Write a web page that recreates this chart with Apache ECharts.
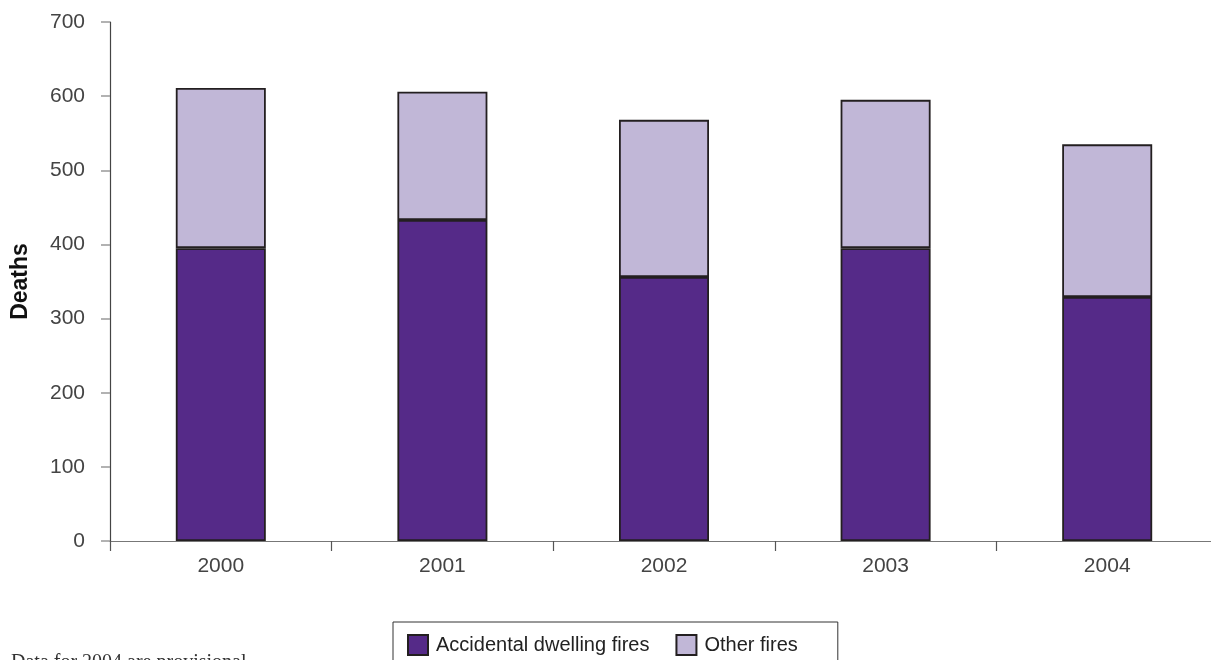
<!DOCTYPE html>
<html>
<head>
<meta charset="utf-8">
<script src="https://cdn.jsdelivr.net/npm/echarts@6/dist/echarts.min.js"></script>
<style>
  html, body { margin: 0; padding: 0; background: #fff; }
  #chart { width: 1211px; height: 660px; }
</style>
</head>
<body>
<div id="chart"></div>
<script>
// Fire deaths by year, split by fire type
const years = ['2000', '2001', '2002', '2003', '2004'];
const accidentalDwelling = [395, 433, 356, 395, 329];
const otherFires = [216, 173, 212, 200, 206];
const yTicks = [0, 100, 200, 300, 400, 500, 600, 700];

const chart = echarts.init(document.getElementById('chart'));
const font = 'Liberation Sans, Arial, sans-serif';
const barBorder = { borderColor: '#231f20', borderWidth: 1.8 };

chart.setOption({
  animation: false,
  grid: {
    left: 110, top: 22, width: 1108, height: 519,
    containLabel: false,
    outerBoundsMode: 'none'
  },
  xAxis: {
    type: 'category',
    data: years,
    axisLine: { lineStyle: { color: '#777', width: 1.2 } },
    axisTick: { show: true, length: 10, lineStyle: { color: '#555', width: 1.2 } },
    axisLabel: { color: '#444', fontSize: 21, fontFamily: font, margin: 15 }
  },
  yAxis: {
    type: 'value',
    min: yTicks[0],
    max: yTicks[yTicks.length - 1],
    interval: 100,
    name: 'Deaths',
    nameLocation: 'middle',
    nameGap: 78,
    nameTextStyle: { fontSize: 23, fontWeight: 'bold', color: '#111', fontFamily: font },
    splitLine: { show: false },
    axisLine: { show: true, lineStyle: { color: '#444', width: 1.2 } },
    axisTick: { show: true, inside: false, length: 9, lineStyle: { color: '#999', width: 1.5 } },
    axisLabel: { color: '#444', fontSize: 21, fontFamily: font, margin: 25 }
  },
  legend: {
    left: 393,
    top: 622,
    orient: 'horizontal',
    backgroundColor: '#fff',
    borderColor: '#333',
    borderWidth: 1,
    padding: [12, 40, 20, 14],
    itemWidth: 20,
    itemHeight: 20,
    itemGap: 26,
    icon: 'rect',
    textStyle: { fontSize: 20, color: '#222', fontFamily: font, padding: [0, 0, 0, 3] },
    data: ['Accidental dwelling fires', 'Other fires']
  },
  graphic: [{
    type: 'text',
    left: 11,
    top: 653,
    style: {
      text: 'Data for 2004 are provisional',
      fontSize: 20,
      fontFamily: 'Liberation Serif, Times New Roman, serif',
      fill: '#333'
    }
  }],
  series: [
    {
      name: 'Accidental dwelling fires',
      type: 'bar',
      stack: 'deaths',
      barWidth: 90,
      data: accidentalDwelling,
      itemStyle: Object.assign({ color: '#552a88' }, barBorder)
    },
    {
      name: 'Other fires',
      type: 'bar',
      stack: 'deaths',
      barWidth: 90,
      data: otherFires,
      itemStyle: Object.assign({ color: '#c1b7d7' }, barBorder)
    }
  ]
});
</script>
</body>
</html>
